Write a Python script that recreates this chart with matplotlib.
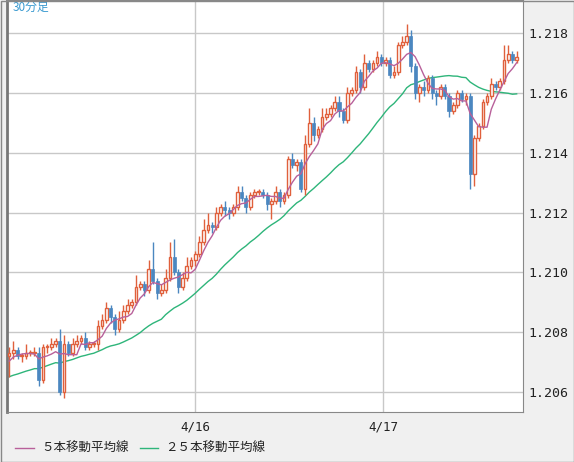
import matplotlib
matplotlib.use("Agg")
import matplotlib.pyplot as plt
import numpy as np
import pandas as pd
from matplotlib.lines import Line2D

# closes before the visible window (for moving averages)
pre_close = [1.2061, 1.2062, 1.2060, 1.2061, 1.2063, 1.2062, 1.2064, 1.2063, 1.2062, 1.2063,
             1.2065, 1.2064, 1.2063, 1.2065, 1.2066, 1.2064, 1.2065, 1.2067, 1.2066, 1.2068,
             1.2067, 1.2069, 1.2070, 1.2072]
close = [1.2073, 1.2074, 1.2072, 1.2072, 1.2073, 1.2073, 1.2073, 1.2064, 1.2075, 1.2075,
         1.2076, 1.2077, 1.2060, 1.2076, 1.2073, 1.2076, 1.2077, 1.2078, 1.2075, 1.2076,
         1.2076, 1.2082, 1.2084, 1.2088, 1.2085, 1.2081, 1.2084, 1.2087, 1.2089, 1.2090,
         1.2095, 1.2096, 1.2094, 1.2101, 1.2097, 1.2093, 1.2094, 1.2098, 1.2105, 1.2100,
         1.2095, 1.2098, 1.2102, 1.2104, 1.2106, 1.2110, 1.2114, 1.2116, 1.2115, 1.2120,
         1.2122, 1.2121, 1.2120, 1.2122, 1.2127, 1.2125, 1.2122, 1.2126, 1.2127, 1.2127,
         1.2126, 1.2123, 1.2124, 1.2127, 1.2124, 1.2126, 1.2138, 1.2136, 1.2137, 1.2128,
         1.2143, 1.2150, 1.2146, 1.2148, 1.2152, 1.2153, 1.2155, 1.2157, 1.2154, 1.2151,
         1.2160, 1.2161, 1.2167, 1.2162, 1.2170, 1.2168, 1.2170, 1.2172, 1.2170, 1.2171,
         1.2166, 1.2167, 1.2176, 1.2177, 1.2179, 1.2169, 1.2160, 1.2162, 1.2161, 1.2165,
         1.2160, 1.2159, 1.2162, 1.2159, 1.2154, 1.2156, 1.2160, 1.2158, 1.2159, 1.2133,
         1.2145, 1.2149, 1.2157, 1.2159, 1.2163, 1.2162, 1.2164, 1.2171, 1.2173, 1.2171,
         1.2172]
# wick lengths in pips beyond the body
upper_pips = [2, 3, 1, 1, 3, 1, 2, 2, 1, 1,
              2, 1, 4, 3, 1, 2, 2, 1, 2, 1,
              1, 2, 2, 2, 1, 1, 3, 2, 2, 1,
              4, 1, 1, 3, 9, 1, 2, 3, 5, 6,
              1, 2, 3, 1, 1, 2, 4, 4, 1, 2,
              1, 2, 1, 1, 2, 2, 1, 1, 1, 1,
              1, 1, 1, 2, 1, 1, 1, 2, 1, 1,
              3, 5, 2, 1, 3, 2, 1, 2, 2, 1,
              2, 1, 2, 1, 3, 1, 1, 2, 1, 1,
              1, 2, 1, 2, 4, 2, 1, 1, 2, 1,
              1, 1, 1, 1, 1, 1, 1, 1, 1, 1,
              1, 1, 1, 1, 2, 1, 1, 5, 3, 1,
              2]
lower_pips = [7, 2, 1, 2, 1, 1, 1, 2, 1, 2,
              1, 1, 1, 2, 1, 1, 1, 1, 1, 1,
              1, 2, 1, 1, 2, 2, 1, 1, 1, 1,
              1, 1, 2, 1, 1, 2, 1, 1, 1, 1,
              2, 1, 1, 1, 2, 1, 1, 1, 2, 1,
              1, 2, 2, 1, 1, 1, 2, 1, 1, 1,
              1, 2, 5, 1, 2, 1, 1, 1, 2, 1,
              2, 1, 2, 1, 1, 1, 1, 1, 2, 1,
              1, 1, 1, 2, 1, 1, 1, 1, 1, 1,
              1, 1, 1, 1, 1, 2, 2, 3, 2, 1,
              2, 3, 1, 1, 2, 1, 1, 1, 2, 5,
              4, 1, 1, 1, 1, 1, 1, 1, 1, 1,
              1]
tick_pos = [44, 88.4]
tick_labels = ["4/16", "4/17"]
yticks = [1.206, 1.208, 1.210, 1.212, 1.214, 1.216, 1.218]

n = len(close)
allc = pd.Series(pre_close + close)
ma5 = allc.rolling(5, min_periods=1).mean().values[len(pre_close):]
ma25 = allc.rolling(25, min_periods=1).mean().values[len(pre_close):]
opens = [pre_close[-1]] + close[:-1]
x = np.arange(n)

UP = "#e0603c"
DN = "#4b87c0"
fig = plt.figure(figsize=(5.74, 4.62), dpi=100, facecolor="#f0f0f0")
ax = fig.add_axes([7/574, 50/462, 516/574, 412/462])
ax.set_facecolor("white")
ax.set_xlim(-0.5, 121.5)
ax.set_ylim(1.20532, 1.21912)
for t in yticks:
    ax.axhline(t, color="#c8c8c8", lw=1, zorder=0)
for t in tick_pos:
    ax.axvline(t, color="#c8c8c8", lw=1, zorder=0)

ax.plot(x, ma25, color="#2eb57a", lw=1, zorder=2)
for i in range(n):
    o, c = opens[i], close[i]
    top, bot = max(o, c), min(o, c)
    hi = top + upper_pips[i] * 0.0001
    lo = bot - lower_pips[i] * 0.0001
    col = UP if c >= o else DN
    ax.vlines(i, lo, hi, color=col, lw=1, zorder=3)
    h = max(top - bot, 0.00003)
    if c >= o:
        ax.bar(i, h, bottom=bot, width=0.62, facecolor="white", edgecolor=UP, lw=1, zorder=4)
    else:
        ax.bar(i, h, bottom=bot, width=0.72, facecolor=DN, edgecolor=DN, lw=0.5, zorder=4)
ax.plot(x, ma5, color="#b8609a", lw=1, zorder=5)

ax.yaxis.tick_right()
ax.set_yticks(yticks)
ax.set_yticklabels([f"{t:.3f}" for t in yticks], family="DejaVu Sans Mono", fontsize=9.5)
ax.set_xticks(tick_pos)
ax.set_xticklabels(tick_labels, family="DejaVu Sans Mono", fontsize=9)
ax.tick_params(length=0, pad=4, colors="#222222")
ax.tick_params(axis="x", pad=6)
for s in ["top", "right", "bottom"]:
    ax.spines[s].set_color("#888888")
ax.spines["left"].set_color("#777777")
ax.spines["left"].set_linewidth(2)
ax.text(0.01, 0.997, "30分足", transform=ax.transAxes, ha="left", va="top",
        color="#3a9ad0", fontsize=8.5, family=["Noto Sans CJK JP", "DejaVu Sans"])

jp = ["Noto Sans CJK JP", "DejaVu Sans"]
fig.add_artist(Line2D([15/574, 34/574], [14/462, 14/462], color="#b8609a", lw=1))
fig.text(41/574, 14/462, "５本移動平均線", fontsize=9, va="center", family=jp, color="#222222")
fig.add_artist(Line2D([140/574, 158/574], [14/462, 14/462], color="#2eb57a", lw=1))
fig.text(165/574, 14/462, "２５本移動平均線", fontsize=9, va="center", family=jp, color="#222222")
fig.add_artist(plt.Rectangle((0.5/574, 0.5/462), 573/574, 461/462, transform=fig.transFigure,
                             fill=False, edgecolor="#888888", lw=1))
fig.savefig("out.png", dpi=100, facecolor=fig.get_facecolor())
